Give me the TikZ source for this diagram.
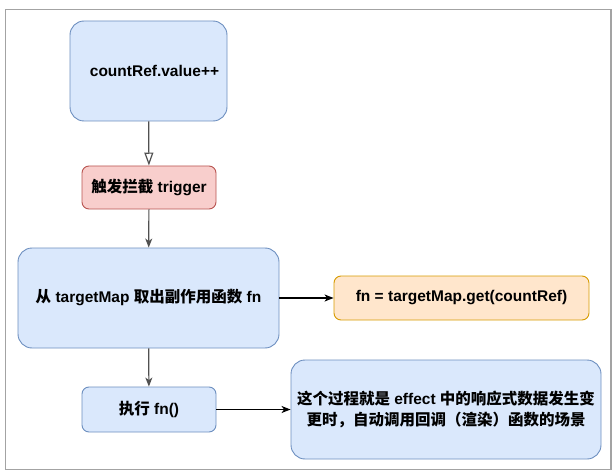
\documentclass[tikz,border=0pt]{standalone}
\usepackage{fontspec}
\setmainfont{Liberation Sans}
\newfontfamily\cjk{Noto Sans CJK SC}
\usetikzlibrary{arrows.meta,positioning,shapes}
\definecolor{blueFill}{HTML}{DAE8FC}
\definecolor{blueLine}{HTML}{6C8EBF}
\definecolor{redFill}{HTML}{F8CECC}
\definecolor{redLine}{HTML}{B85450}
\definecolor{orangeFill}{HTML}{FFE6CC}
\definecolor{orangeLine}{HTML}{D79B00}
\definecolor{frameGray}{HTML}{A3A3A3}
\definecolor{lineGray}{HTML}{505050}

\begin{document}
\begin{tikzpicture}[x=1pt,y=-1pt,>={Stealth[length=9pt,width=7pt,inset=2.5pt]},
  main node/.style={draw,rounded corners=14pt,align=center,inner sep=0pt,line width=0.9pt,
    font=\fontsize{15.5}{21}\selectfont\bfseries},
  small node/.style={main node,rounded corners=7pt},
  blue node/.style={fill=blueFill,draw=blueLine},
  red node/.style={fill=redFill,draw=redLine},
  orange node/.style={fill=orangeFill,draw=orangeLine},
  link/.style={->,line width=1.2pt,lineGray},
  hollow link/.style={-{Triangle[open,length=13pt,width=9pt]},line width=1.2pt,lineGray}]
\useasboundingbox (0,0) rectangle (616,476);
% screenshot frame
\draw[frameGray,line width=1.8pt] (5.5,9.5) rectangle (611,469.5);
% boxes
\node[main node,blue node,minimum width=157pt,minimum height=100pt] (count) at (148.5,71) {\hspace{12pt}countRef.value++};
\node[small node,red node,minimum width=134pt,minimum height=43pt] (trig) at (149,187.5) {{\cjk 触发拦截} trigger};
\node[main node,blue node,minimum width=261pt,minimum height=100pt] (lookup) at (148.5,298) {{\cjk 从} targetMap {\cjk 取出副作用函数} fn};
\node[small node,orange node,minimum width=255pt,minimum height=44pt] (getfn) at (461.5,298) {fn = targetMap.get(countRef)};
\node[small node,blue node,minimum width=134pt,minimum height=45pt] (runfn) at (149,409.5) {{\cjk 执行} fn()};
\node[main node,blue node,minimum width=310pt,minimum height=99pt] (note) at (446,409.5)
  {{\cjk 这个过程就是} effect {\cjk 中的响应式数据发生变}\\{\cjk 更时，自动调用回调（渲染）函数的场景}};
% connectors
\draw[hollow link] (count) -- (trig);
\draw[link] (trig) -- (lookup);
\draw[link,black] (lookup) -- (getfn);
\draw[link] (lookup) -- (runfn);
\draw[link,black] (runfn) -- (note);
\end{tikzpicture}
\end{document}
